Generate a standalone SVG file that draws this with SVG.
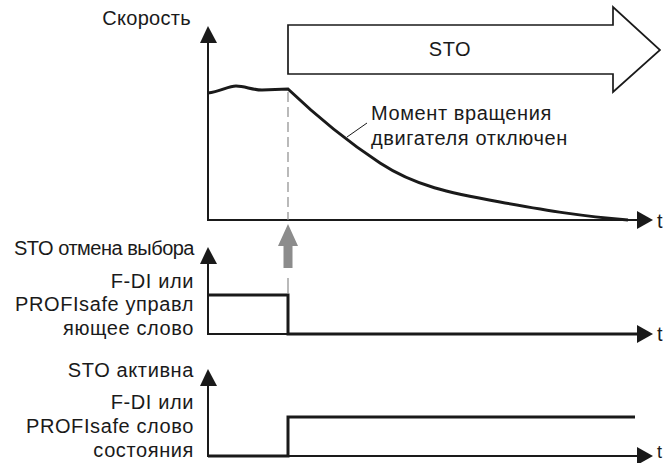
<svg xmlns="http://www.w3.org/2000/svg" width="670" height="463" viewBox="0 0 670 463">
<style>
text{font-family:"Liberation Sans",Arial,sans-serif;font-size:20px;fill:#1a1a1a;letter-spacing:0.6px}
.end{text-anchor:end}
.axis{fill:none;stroke:#1a1a1a;stroke-width:2}
.sig{fill:none;stroke:#1a1a1a;stroke-width:3}
.gray{stroke:#8c8c8c;stroke-width:1.2;fill:none}
</style>
<defs>
<marker id="ah" markerUnits="userSpaceOnUse" markerWidth="16" markerHeight="18" viewBox="0 0 16 18" refX="14" refY="9" orient="auto">
<path d="M0,0 L16,9 L0,18 Z" fill="#1a1a1a"/>
</marker>
</defs>
<rect width="670" height="463" fill="#fff"/>

<g id="chart-speed">
<text class="end" x="191" y="25" style="letter-spacing:0.3px">Скорость</text>
<path class="axis" d="M208,42 L208,220 L651,220" marker-end="url(#ah)"/>
<path d="M200,43 L208,26 L217,43 Z" fill="#1a1a1a"/>
<text x="657" y="228">t</text>
<path class="sig" d="M208,93 C220,92 228,86 236,86 C245,86 252,90 262,90 L288,89 C310,110 345,140 380,163 S450,193 500,202 S580,216 628,220"/>
</g>

<g id="sto-arrow">
<polygon points="288,25 613,25 613,7 660,50 613,92 613,74 288,74" fill="#fff" stroke="#1a1a1a" stroke-width="1.7"/>
<text x="450" y="56" text-anchor="middle">STO</text>
</g>

<g id="label-torque">
<text x="371" y="120">Момент вращения</text>
<text x="371" y="145">двигателя отключен</text>
</g>

<g id="chart-deselect">
<text class="end" x="194" y="255" style="letter-spacing:-0.5px">STO отмена выбора</text>
<text class="end" x="194" y="288">F-DI или</text>
<text class="end" x="194" y="311">PROFIsafe управл</text>
<text class="end" x="194" y="335">яющее слово</text>
<path class="axis" d="M208,264 L208,334 L651,334" marker-end="url(#ah)"/>
<path d="M200,264 L208,247 L217,264 Z" fill="#1a1a1a"/>
<text x="657" y="341">t</text>
<path class="sig" d="M208,295 L288,295 L288,334 L640,334"/>
</g>

<g id="chart-active">
<text class="end" x="194" y="377">STO активна</text>
<text class="end" x="194" y="409">F-DI или</text>
<text class="end" x="194" y="433">PROFIsafe слово</text>
<text class="end" x="194" y="457">состояния</text>
<path class="axis" d="M208,386 L208,456 L651,456" marker-end="url(#ah)"/>
<path d="M200,386 L208,369 L217,386 Z" fill="#1a1a1a"/>
<text x="657" y="458" style="font-size:18px">t</text>
<path class="sig" d="M208,456 L288,456 L288,417 L635,417"/>
</g>

<g id="connectors">
<line class="gray" x1="288" y1="92" x2="288" y2="220" stroke-dasharray="10,5"/>
<line class="gray" x1="288" y1="278" x2="288" y2="293"/>
<polygon points="288,224 298,246 292.5,246 292.5,268 283.5,268 283.5,246 278,246" fill="#8c8c8c"/>
<line x1="367" y1="123" x2="347" y2="137" stroke="#1a1a1a" stroke-width="1"/>
</g>
</svg>
